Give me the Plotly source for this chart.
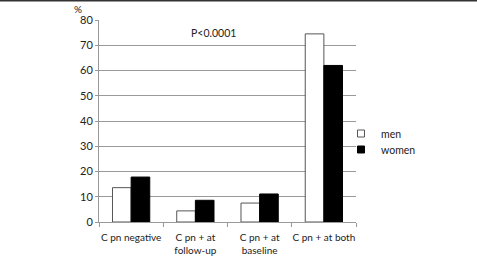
import plotly.graph_objects as go

categories = ["C pn negative", "C pn + at<br>follow-up", "C pn + at<br>baseline", "C pn + at both"]
men = [13.6, 4.4, 7.5, 74.5]
women = [17.8, 8.6, 11.1, 62.0]
y_ticks = [0, 10, 20, 30, 40, 50, 60, 70, 80]

FONT = "Lato"

fig = go.Figure()
fig.add_trace(go.Bar(name="men", x=categories, y=men, showlegend=False,
                     marker=dict(color="white", line=dict(color="#555555", width=1))))
fig.add_trace(go.Bar(name="women", x=categories, y=women, showlegend=False,
                     marker=dict(color="black", line=dict(color="black", width=1))))
# legend entries with small square symbols
fig.add_trace(go.Scatter(name="men", x=[None], y=[None], mode="markers", legend="legend",
                         marker=dict(symbol="square", size=7, color="white",
                                     line=dict(color="#555555", width=1))))
fig.add_trace(go.Scatter(name="women", x=[None], y=[None], mode="markers", legend="legend2",
                         marker=dict(symbol="square", size=7, color="black",
                                     line=dict(color="black", width=1))))

leg_common = dict(xanchor="left", yanchor="top", font=dict(size=10.5),
                  itemwidth=30, bgcolor="rgba(0,0,0,0)")

fig.update_layout(
    width=477, height=261,
    margin=dict(l=99, r=121, t=20, b=39, autoexpand=False),
    paper_bgcolor="white", plot_bgcolor="white",
    barmode="group", bargap=0.42, bargroupgap=0,
    font=dict(family=FONT, size=10.5, color="#222222"),
    legend=dict(x=(341-99)/257, y=(222-119)/202, **leg_common),
    legend2=dict(x=(341-99)/257, y=(222-135)/202, **leg_common),
    xaxis=dict(showline=True, linecolor="#999999", linewidth=1, tickangle=0,
               automargin=False, ticklabelstandoff=6,
               ticks="outside", tickson="boundaries", ticklen=4, tickcolor="#999999",
               tickfont=dict(size=10)),
    yaxis=dict(range=[0, 80], tickvals=y_ticks, showgrid=True, gridcolor="#999999",
               gridwidth=1, showline=True, linecolor="#999999", linewidth=1,
               automargin=False,
               ticks="outside", ticklen=3, tickcolor="#999999", zeroline=False,
               tickfont=dict(size=11)),
    shapes=[dict(type="line", xref="paper", yref="paper", x0=-99/257, x1=(477-99)/257,
                 y0=1 + 19.5/202, y1=1 + 19.5/202, line=dict(color="#333333", width=2))],
    annotations=[
        dict(text="P<0.0001", xref="paper", yref="paper", x=(213-99)/257, y=(222-33)/202,
             xanchor="center", yanchor="middle", showarrow=False, font=dict(size=10.5)),
        dict(text="%", xref="paper", yref="paper", x=(78-99)/257, y=(222-9)/202,
             xanchor="center", yanchor="middle", showarrow=False, font=dict(size=10)),
    ],
)

fig.write_html("out.html")
